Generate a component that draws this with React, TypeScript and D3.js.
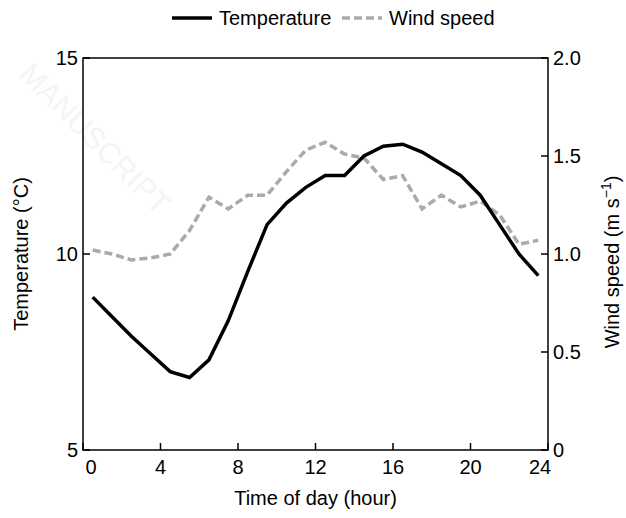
import * as React from "react";
import * as d3 from "d3";

const hours = [0.5,1.5,2.5,3.5,4.5,5.5,6.5,7.5,8.5,9.5,10.5,11.5,12.5,13.5,14.5,15.5,16.5,17.5,18.5,19.5,20.5,21.5,22.5,23.5];
const temperature = [8.9,8.4,7.9,7.45,7.0,6.85,7.3,8.3,9.55,10.75,11.3,11.7,12.0,12.0,12.5,12.75,12.8,12.6,12.3,12.0,11.5,10.75,10.0,9.45];
const windSpeed = [1.02,1.0,0.97,0.98,1.0,1.12,1.29,1.23,1.3,1.3,1.42,1.53,1.57,1.51,1.49,1.38,1.4,1.23,1.3,1.24,1.27,1.2,1.05,1.07];
const xTicks = [0,4,8,12,16,20,24];
const tempTicks = [5,10,15];
const windTicks = [0,0.5,1.0,1.5,2.0];

export default function App() {
  const W = 626, H = 518;
  const left = 83, right = 548, top = 58, bottom = 450;
  const x = d3.scaleLinear().domain([0, 24]).range([left, right]);
  const yT = d3.scaleLinear().domain([5, 15]).range([bottom, top]);
  const yW = d3.scaleLinear().domain([0, 2]).range([bottom, top]);
  const tLine = d3.line<number>().x((_, i) => x(hours[i])).y((d) => yT(d));
  const wLine = d3.line<number>().x((_, i) => x(hours[i])).y((d) => yW(d));
  const font = "'Liberation Sans', Arial, sans-serif";
  const fs = 20;
  return (
    <svg width={W} height={H} style={{ position: "absolute", left: 0, top: 0, background: "#fff" }} fontFamily={font}>
      <text x={20} y={110} fontSize={30} fill="#000" opacity={0.04} transform="rotate(45,60,90)">MANUSCRIPT</text>
      <path d={wLine(windSpeed) as string} fill="none" stroke="#aaa" strokeWidth={3.5} strokeDasharray="8,4" />
      <path d={tLine(temperature) as string} fill="none" stroke="#000" strokeWidth={3.5} />
      <rect x={left} y={top} width={right - left} height={bottom - top} fill="none" stroke="#000" strokeWidth={1.5} />
      {xTicks.map((t) => (
        <g key={t}>
          <line x1={x(t)} x2={x(t)} y1={bottom} y2={bottom - 7} stroke="#000" strokeWidth={1.5} />
          <text x={x(t) + (t === 0 ? 8 : t === 24 ? -8 : 0)} y={bottom + 24} fontSize={fs} textAnchor="middle">{t}</text>
        </g>
      ))}
      {tempTicks.map((t) => (
        <g key={t}>
          <line x1={left} x2={left + 7} y1={yT(t)} y2={yT(t)} stroke="#000" strokeWidth={1.5} />
          <text x={left - 5} y={yT(t) + 7} fontSize={fs} textAnchor="end">{t}</text>
        </g>
      ))}
      {windTicks.map((t) => (
        <g key={t}>
          <line x1={right} x2={right - 7} y1={yW(t)} y2={yW(t)} stroke="#000" strokeWidth={1.5} />
          <text x={right + 5} y={yW(t) + 7} fontSize={fs}>{t === 0 ? "0" : t.toFixed(1)}</text>
        </g>
      ))}
      <text x={(left + right) / 2} y={505} fontSize={fs} textAnchor="middle">Time of day (hour)</text>
      <text transform={`translate(28,${(top + bottom) / 2}) rotate(-90)`} fontSize={fs} textAnchor="middle">Temperature (°C)</text>
      <text transform={`translate(619,${(top + bottom) / 2 + 8}) rotate(-90)`} fontSize={fs} textAnchor="middle">
        Wind speed (m s<tspan dy={-8} fontSize={14}>−1</tspan><tspan dy={8}>)</tspan>
      </text>
      <line x1={172} x2={212} y1={18} y2={18} stroke="#000" strokeWidth={3.5} />
      <text x={219} y={25} fontSize={fs}>Temperature</text>
      <line x1={342} x2={382} y1={18} y2={18} stroke="#aaa" strokeWidth={3.5} strokeDasharray="8,4" />
      <text x={389} y={25} fontSize={fs}>Wind speed</text>
    </svg>
  );
}
